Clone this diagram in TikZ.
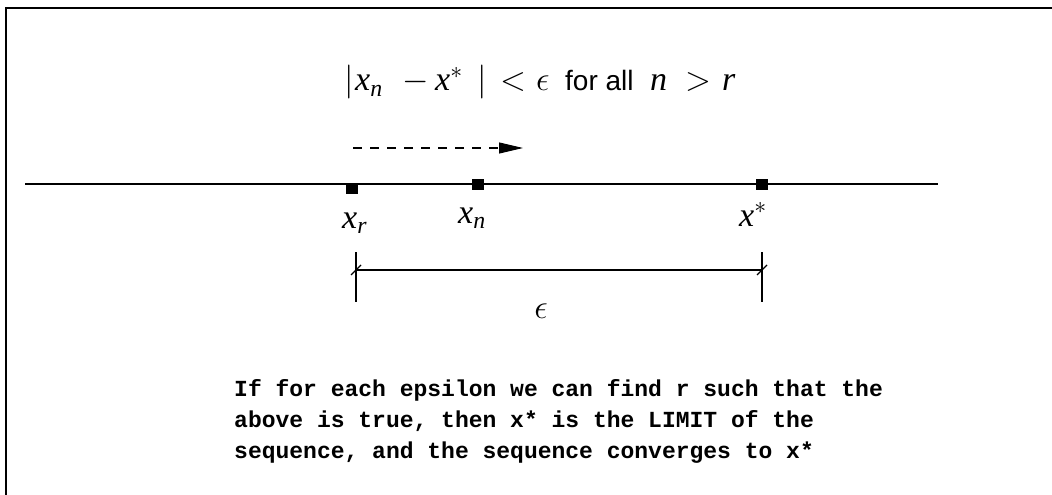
\RequirePackage{fix-cm}
\documentclass[tikz,border=0pt]{standalone}
\usepackage{amsmath}
\usepackage{fontspec}
\newfontfamily\tms{Liberation Serif}
\newfontfamily\ars{Liberation Sans}
\newfontfamily\mono{Liberation Mono}
\usetikzlibrary{arrows.meta}
\newcommand{\mv}[1]{\text{\tms\itshape #1}}
\newcommand{\piece}[2]{\makebox[#1pt][l]{#2}}
\tikzset{
  thinline/.style={line width=1.1pt, black},
  pt/.style={fill=black, minimum width=12pt, minimum height=11pt, inner sep=0pt, outer sep=0pt},
  mathlbl/.style={inner sep=0pt, anchor=base west, font=\fontsize{34}{40}\selectfont},
}
\begin{document}
\begin{tikzpicture}[x=1pt,y=-1pt]
\useasboundingbox (0,0) rectangle (1052,495);
% frame
\coordinate (fr1) at (1052,8);
\coordinate (fr2) at (6,8);
\coordinate (fr3) at (6,495);
\draw[line width=1.6pt] (fr1) -- (fr2) -- (fr3);
% top formula
\node[mathlbl] (formula) at (344,91) {\piece{11}{$|$}\piece{47}{$\mv{x}_{\mv{n}}$}\piece{33}{$-$}\piece{42}{$\mv{x}^{*}$}\piece{23}{$|$}\piece{36}{$<$}\piece{29}{$\epsilon$}\piece{85}{\ars\fontsize{28}{32}\selectfont for all}\piece{35}{$\mv{n}$}\piece{37}{$>$}$\mv{r}$};
% dashed arrow
\coordinate (da1) at (353,148);
\coordinate (da2) at (523,148);
\draw[thinline, dash pattern=on 9pt off 8pt, -{Triangle[length=24pt,width=11pt]}] (da1) -- (da2);
% number line
\coordinate (nl1) at (25,184);
\coordinate (nl2) at (938,184);
\draw[thinline] (nl1) -- (nl2);
\node[pt] (pr) at (351.5,188.5) {};
\node[pt] (pn) at (477.5,184.5) {};
\node[pt] (ps) at (761.5,184.5) {};
\node[mathlbl] (lr) at (342,228) {$\mv{x}_{\mv{r}}$};
\node[mathlbl] (ln) at (458,223) {$\mv{x}_{\mv{n}}$};
\node[mathlbl] (ls) at (739,226) {$\mv{x}^{*}$};
% dimension
\coordinate (v1a) at (356,252);
\coordinate (v1b) at (356,302);
\coordinate (v2a) at (762,252);
\coordinate (v2b) at (762,302);
\coordinate (h1) at (356,270);
\coordinate (h2) at (762,270);
\draw[thinline] (v1a) -- (v1b);
\draw[thinline] (v2a) -- (v2b);
\draw[thinline] (h1) -- (h2);
\draw[line width=1.3pt] ([shift={(-5,5)}]h1) -- ([shift={(5,-5)}]h1);
\draw[line width=1.3pt] ([shift={(-5,5)}]h2) -- ([shift={(5,-5)}]h2);
\node[inner sep=0pt, font=\fontsize{34}{40}\selectfont] (eps) at (541,311) {$\epsilon$};
% bottom text
\node[inner sep=0pt, anchor=base west, align=left, font=\mono\bfseries\fontsize{23}{31}\selectfont] (txt) at (234,458)
{If for each epsilon we can find r such that the\\above is true, then x* is the LIMIT of the\\sequence, and the sequence converges to x*};
\end{tikzpicture}
\end{document}
